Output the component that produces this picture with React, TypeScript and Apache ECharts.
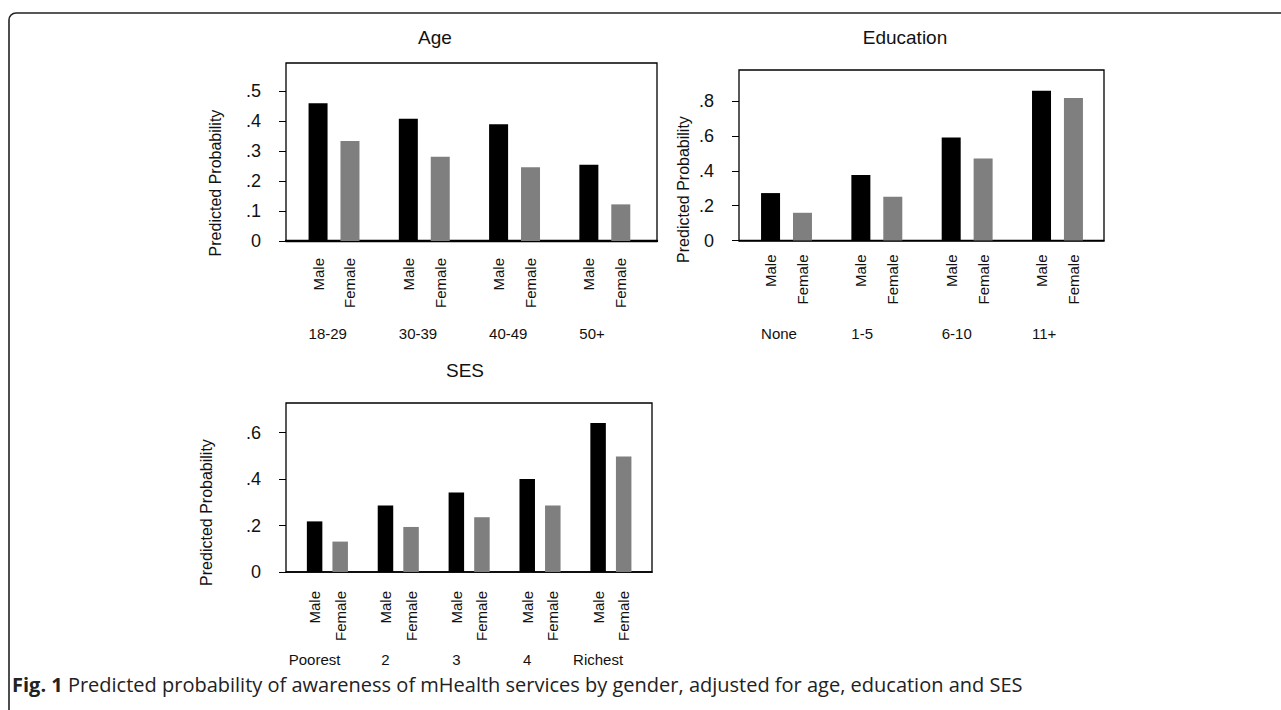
import React, { useEffect, useRef } from "react";
import * as echarts from "echarts";

// ---- data ----
const ageCats = ["18-29", "30-39", "40-49", "50+"];
const ageMale = [0.459, 0.407, 0.389, 0.254];
const ageFemale = [0.333, 0.281, 0.246, 0.122];
const ageTicks = [0, 0.1, 0.2, 0.3, 0.4, 0.5];

const eduCats = ["None", "1-5", "6-10", "11+"];
const eduMale = [0.272, 0.376, 0.591, 0.859];
const eduFemale = [0.159, 0.251, 0.47, 0.817];
const eduTicks = [0, 0.2, 0.4, 0.6, 0.8];

const sesCats = ["Poorest", "2", "3", "4", "Richest"];
const sesMale = [0.218, 0.286, 0.342, 0.401, 0.642];
const sesFemale = [0.131, 0.194, 0.236, 0.286, 0.498];
const sesTicks = [0, 0.2, 0.4, 0.6];

const seriesNames = ["Male", "Female"];
const panelTitles = ["Age", "Education", "SES"];
const yTitle = "Predicted Probability";
const caption =
  "Predicted probability of awareness of mHealth services by gender, adjusted for age, education and SES";

const FONT = "'Liberation Sans', Arial, Helvetica, sans-serif";
const CAP_FONT = "'Open Sans', 'Noto Sans', sans-serif";

type Panel = {
  title: string;
  cats: string[];
  male: number[];
  female: number[];
  ticks: number[];
  box: { left: number; top: number; width: number; height: number };
  xMin: number;
  xMax: number;
  yMax: number;
  barW: number;
  gapPct: number;
  titlePos: [number, number];
  yNamePos: [number, number];
  genderDy: number;
  catDy: number;
  catMode: "left" | "center";
  bottomW: number;
};

const panels: Panel[] = [
  {
    title: panelTitles[0],
    cats: ageCats,
    male: ageMale,
    female: ageFemale,
    ticks: ageTicks,
    box: { left: 286, top: 63, width: 371, height: 178 },
    xMin: -0.532,
    xMax: 3.578,
    yMax: 0.593,
    barW: 19,
    gapPct: 68,
    titlePos: [435, 37],
    yNamePos: [215, 183],
    genderDy: 17,
    catDy: 92,
    catMode: "left",
    bottomW: 2.4,
  },
  {
    title: panelTitles[1],
    cats: eduCats,
    male: eduMale,
    female: eduFemale,
    ticks: eduTicks,
    box: { left: 739, top: 70, width: 365, height: 170.5 },
    xMin: -0.526,
    xMax: 3.515,
    yMax: 0.978,
    barW: 19,
    gapPct: 68,
    titlePos: [905, 37],
    yNamePos: [683.5, 189.5],
    genderDy: 14,
    catDy: 93,
    catMode: "left",
    bottomW: 1.6,
  },
  {
    title: panelTitles[2],
    cats: sesCats,
    male: sesMale,
    female: sesFemale,
    ticks: sesTicks,
    box: { left: 286, top: 403, width: 366, height: 169 },
    xMin: -0.584,
    xMax: 4.58,
    yMax: 0.728,
    barW: 15.5,
    gapPct: 65,
    titlePos: [465, 370],
    yNamePos: [206, 512.5],
    genderDy: 19,
    catDy: 87,
    catMode: "center",
    bottomW: 1.6,
  },
];

const fmtTick = (v: number) => (v === 0 ? "0" : v.toFixed(1).replace(/^0\./, "."));

function buildOption() {
  const grid: any[] = [];
  const xAxis: any[] = [];
  const yAxis: any[] = [];
  const series: any[] = [];
  const graphic: any[] = [];

  // outer figure frame
  graphic.push({
    type: "rect",
    shape: { x: 9, y: 13, width: 1300, height: 720, r: 7 },
    style: { fill: "none", stroke: "#222", lineWidth: 1.6 },
    silent: true,
  });

  panels.forEach((p, k) => {
    grid.push({
      left: p.box.left,
      top: p.box.top,
      width: p.box.width,
      height: p.box.height,
      show: true,
      borderColor: "#000",
      borderWidth: 1.3,
      backgroundColor: "transparent",
    });
    xAxis.push({
      type: "value",
      gridIndex: k,
      min: p.xMin,
      max: p.xMax,
      position: "bottom",
      axisLine: { show: true, onZero: false, lineStyle: { color: "#000", width: p.bottomW } },
      axisTick: { show: false },
      axisLabel: { show: false },
      splitLine: { show: false },
    });
    const step = p.ticks[1] - p.ticks[0];
    yAxis.push({
      type: "value",
      gridIndex: k,
      min: 0,
      max: p.yMax,
      interval: step,
      position: "left",
      axisLine: { show: false, onZero: false },
      splitLine: { show: false },
      axisTick: {
        show: true,
        length: 7,
        inside: false,
        customValues: p.ticks,
        lineStyle: { color: "#000", width: 1 },
      },
      axisLabel: {
        customValues: p.ticks,
        formatter: (v: number) => fmtTick(v),
        margin: 25,
        fontSize: 18,
        fontFamily: FONT,
        color: "#111",
        padding: [11, 0, 0, 0],
      },
    });

    const genderLabel = {
      show: true,
      position: "bottom",
      distance: p.genderDy,
      rotate: 90,
      align: "right",
      verticalAlign: "middle",
      formatter: "{a}",
      fontSize: 15,
      fontFamily: FONT,
      color: "#111",
    };
    series.push({
      type: "bar",
      name: seriesNames[0],
      xAxisIndex: k,
      yAxisIndex: k,
      data: p.male.map((v, i) => [i, v]),
      barWidth: p.barW,
      barGap: p.gapPct + "%",
      itemStyle: { color: "#000" },
      label: genderLabel,
      silent: true,
    });
    series.push({
      type: "bar",
      name: seriesNames[1],
      xAxisIndex: k,
      yAxisIndex: k,
      data: p.female.map((v, i) => [i, v]),
      barWidth: p.barW,
      barGap: p.gapPct + "%",
      itemStyle: { color: "#7f7f7f" },
      label: genderLabel,
      silent: true,
    });

    const maleOffset = (p.barW * (1 + p.gapPct / 100)) / 2;
    const catDx = p.catMode === "left" ? -maleOffset - p.barW / 2 : -maleOffset;
    series.push({
      type: "custom",
      xAxisIndex: k,
      yAxisIndex: k,
      silent: true,
      clip: false,
      data: p.cats.map((_, i) => [i, 0]),
      renderItem: (params: any, api: any) => {
        const i = api.value(0);
        const pt = api.coord([i, 0]);
        return {
          type: "text",
          x: pt[0] + catDx,
          y: pt[1] + p.catDy,
          style: {
            text: p.cats[i],
            fill: "#111",
            font: `15px ${FONT}`,
            align: p.catMode,
            textAlign: p.catMode,
            verticalAlign: "middle",
            textVerticalAlign: "middle",
          },
        };
      },
    });

    graphic.push({
      type: "text",
      x: p.titlePos[0],
      y: p.titlePos[1],
      style: {
        text: p.title,
        fill: "#111",
        font: `19px ${FONT}`,
        align: "center",
        textAlign: "center",
        verticalAlign: "middle",
        textVerticalAlign: "middle",
      },
      silent: true,
    });
    graphic.push({
      type: "text",
      x: p.yNamePos[0],
      y: p.yNamePos[1],
      rotation: Math.PI / 2,
      style: {
        text: yTitle,
        fill: "#111",
        font: `16px ${FONT}`,
        align: "center",
        textAlign: "center",
        verticalAlign: "middle",
        textVerticalAlign: "middle",
      },
      silent: true,
    });
  });

  graphic.push({
    type: "text",
    x: 12,
    y: 684,
    style: {
      text: "{b|Fig. 1} " + caption,
      fill: "#222",
      font: `20px ${CAP_FONT}`,
      verticalAlign: "middle",
      textVerticalAlign: "middle",
      rich: {
        b: {
          fontWeight: "bold",
          fontSize: 20,
          fontFamily: CAP_FONT,
          fill: "#222",
          color: "#222",
        },
      },
    },
    silent: true,
  });

  return {
    animation: false,
    backgroundColor: "#fff",
    grid,
    xAxis,
    yAxis,
    series,
    graphic,
  };
}

export default function App() {
  const ref = useRef<HTMLDivElement>(null);
  useEffect(() => {
    if (!ref.current) return;
    const chart = echarts.init(ref.current, undefined, { renderer: "svg" });
    chart.setOption(buildOption() as any);
    return () => chart.dispose();
  }, []);
  return (
    <div
      ref={ref}
      style={{ position: "fixed", left: 0, top: 0, width: 1281, height: 710 }}
    />
  );
}
